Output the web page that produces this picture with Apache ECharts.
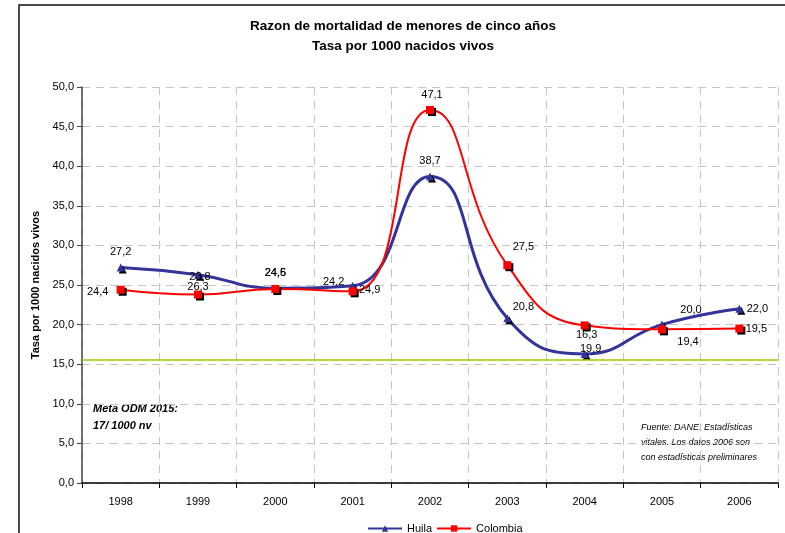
<!DOCTYPE html>
<html>
<head>
<meta charset="utf-8">
<script src="https://cdn.jsdelivr.net/npm/echarts@6/dist/echarts.min.js"></script>
<style>
  html, body { margin: 0; padding: 0; background: #fff; }
  #chart { width: 785px; height: 533px; }
</style>
</head>
<body>
<div id="chart"></div>
<script>
const years = ["1998", "1999", "2000", "2001", "2002", "2003", "2004", "2005", "2006"];
const huila = [27.2, 26.3, 24.6, 24.9, 38.7, 20.8, 16.3, 20.0, 22.0];
const colombia = [24.4, 23.8, 24.5, 24.2, 47.1, 27.5, 19.9, 19.4, 19.5];
// label texts as printed on the original chart (some are swapped there)
const huilaLabels = ["27,2", "23,8", "24,6", "24,2", "38,7", "20,8", "19,9", "20,0", "22,0"];
const colombiaLabels = ["24,4", "26,3", "24,5", "24,9", "47,1", "27,5", "16,3", "19,4", "19,5"];
const metaOdm = 15.6;

// label offsets relative to each marker
const huilaOffsets = [[0, -16], [2, 2], [0, -15], [-19, -4], [0, -16], [16, -11], [6, -5], [29, -15], [18, 0]];
const colombiaOffsets = [[-23, 2], [0, -8], [0, -16], [17, -1], [2, -15], [16, -18], [2, 10], [26, 13], [17, 0]];

const font = "'Liberation Sans', Arial, sans-serif";
const fmt = (v) => v.toFixed(1).replace(".", ",");

function points(values, texts, offsets) {
  return values.map((v, i) => ({
    value: v,
    label: {
      show: true,
      position: "inside",
      offset: offsets[i],
      formatter: texts[i],
      color: "#000",
      fontSize: 11,
      fontFamily: font
    }
  }));
}

const chart = echarts.init(document.getElementById("chart"));
chart.setOption({
  animation: false,
  textStyle: { fontFamily: font },
  title: {
    text: "Razon de mortalidad de menores de cinco años\nTasa por 1000 nacidos vivos",
    left: 398,
    top: 11,
    textAlign: "center",
    textStyle: { fontSize: 13.5, fontWeight: "bold", lineHeight: 20, color: "#000", fontFamily: font }
  },
  legend: {
    bottom: -6,
    left: 362,
    itemWidth: 34,
    itemHeight: 8,
    itemGap: 4,
    textStyle: { fontSize: 11, color: "#000", fontFamily: font },
    data: ["Huila", "Colombia"]
  },
  grid: { left: 82, right: 7, top: 87, bottom: 50 },
  xAxis: {
    type: "category",
    data: years,
    axisLine: { lineStyle: { color: "#000", width: 1.5 } },
    axisTick: { show: true, length: 5, lineStyle: { color: "#000" } },
    axisLabel: { color: "#000", fontSize: 11, margin: 13, fontFamily: font },
    splitLine: { show: true, lineStyle: { color: "#c4c4c4", type: [8, 6] } }
  },
  yAxis: {
    type: "value",
    min: 0,
    max: 50,
    interval: 5,
    name: "Tasa por 1000 nacidos vivos",
    nameLocation: "middle",
    nameGap: 35,
    nameTextStyle: { fontSize: 11, fontWeight: "bold", color: "#000", fontFamily: font },
    axisLine: { show: true, lineStyle: { color: "#444", width: 1.5 } },
    axisTick: { show: true, length: 5, lineStyle: { color: "#444" } },
    axisLabel: { color: "#000", fontSize: 11, formatter: fmt, fontFamily: font },
    splitLine: { show: true, lineStyle: { color: "#c4c4c4", type: [8, 6] } }
  },
  graphic: [
    {
      type: "rect",
      shape: { x: 19, y: 5, width: 800, height: 600 },
      style: { fill: "none", stroke: "#111", lineWidth: 1.5 },
      silent: true
    },
    {
      type: "text",
      left: 93,
      top: 400,
      style: {
        text: "Meta ODM 2015:\n17/ 1000 nv",
        font: "italic bold 11px " + font,
        fill: "#000",
        lineHeight: 17
      }
    },
    {
      type: "text",
      left: 641,
      top: 420,
      style: {
        text: "Fuente: DANE. Estadísticas\nvitales. Los datos 2006 son\ncon estadísticas preliminares",
        font: "italic 9px " + font,
        fill: "#000",
        lineHeight: 15
      }
    }
  ],
  series: [
    {
      name: "Huila",
      type: "line",
      smooth: 0.5,
      z: 3,
      data: points(huila, huilaLabels, huilaOffsets),
      symbol: "triangle",
      symbolSize: 8,
      lineStyle: { color: "#333399", width: 3 },
      itemStyle: { color: "#333399", shadowColor: "#000", shadowOffsetX: 2, shadowOffsetY: 2, shadowBlur: 0 },
      markLine: {
        silent: true,
        symbol: "none",
        label: { show: false },
        lineStyle: { color: "#99cc00", width: 1.5, type: "solid" },
        data: [{ yAxis: metaOdm }]
      }
    },
    {
      name: "Colombia",
      type: "line",
      smooth: 0.5,
      z: 4,
      data: points(colombia, colombiaLabels, colombiaOffsets),
      symbol: "rect",
      symbolSize: 8,
      lineStyle: { color: "#ff0000", width: 2 },
      itemStyle: { color: "#ff0000", shadowColor: "#000", shadowOffsetX: 2, shadowOffsetY: 2, shadowBlur: 0 }
    }
  ]
});
</script>
</body>
</html>
